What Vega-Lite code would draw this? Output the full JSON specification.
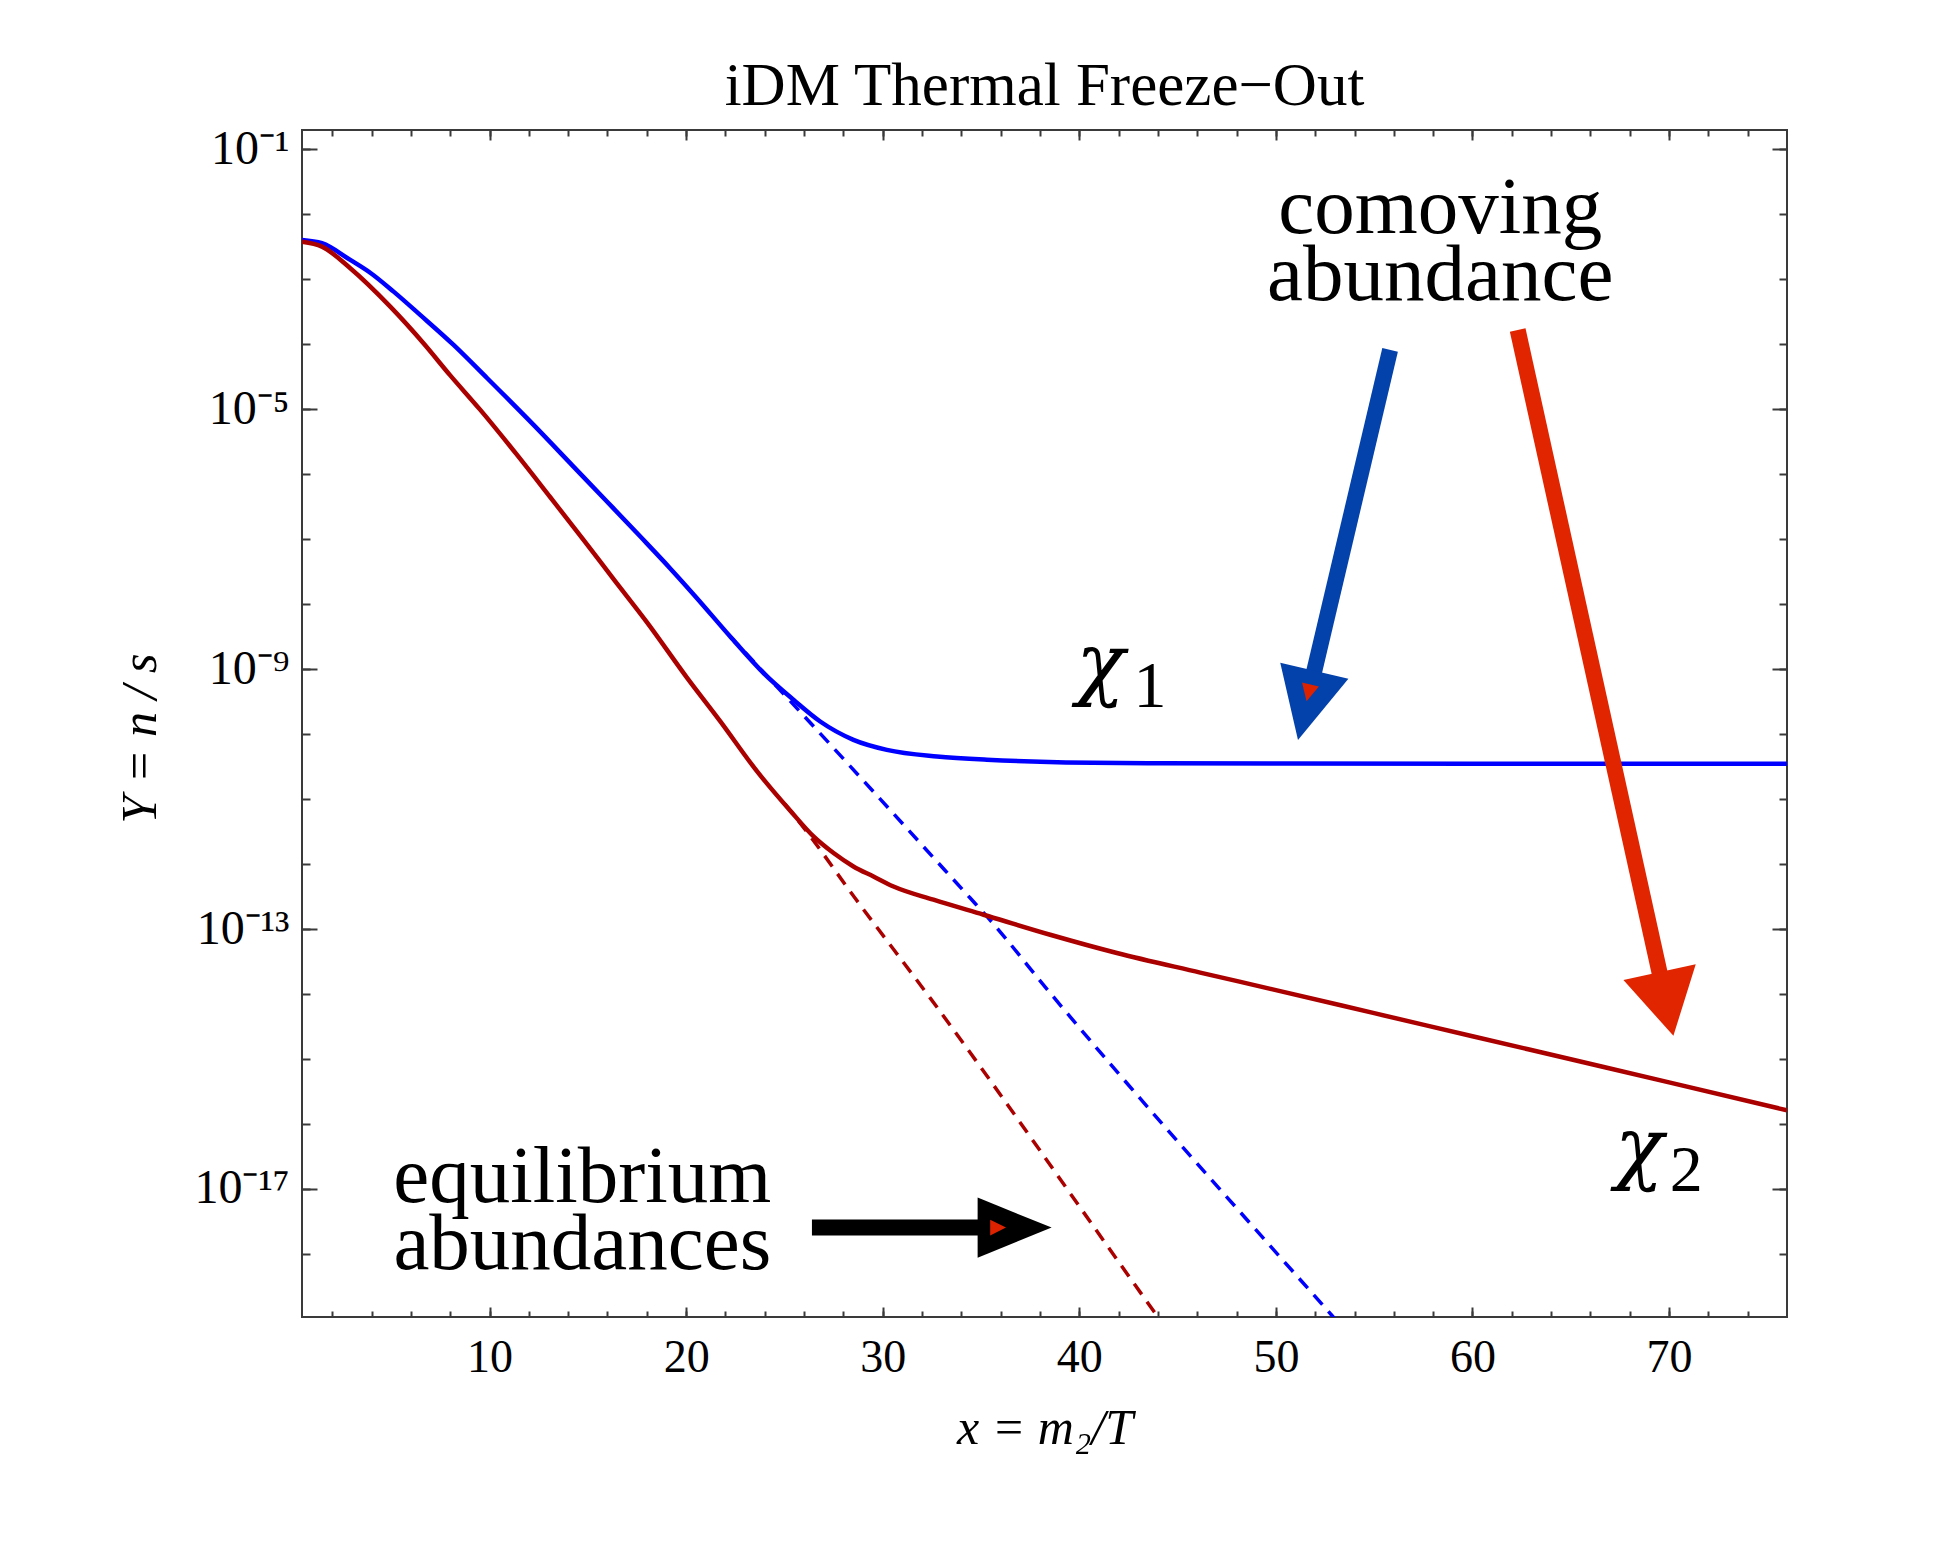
{
  "$schema": "https://vega.github.io/schema/vega-lite/v6.json",
  "width": 1485,
  "height": 1187,
  "autosize": {"type": "none"},
  "padding": {"left": 302, "top": 130, "right": 164, "bottom": 245},
  "background": "white",
  "title": {"text": "iDM Thermal Freeze−Out", "font": "Liberation Serif", "fontSize": 61, "fontWeight": "normal", "color": "black", "anchor": "middle", "baseline": "alphabetic", "offset": -41, "frame": "group"},
  "config": {
    "view": {"stroke": "#3a3a3a", "strokeWidth": 2},
    "axis": {"domain": false, "grid": false, "tickColor": "#3a3a3a", "tickWidth": 2, "labelFont": "Liberation Serif", "labelFontSize": 46, "labelColor": "black", "titleFont": "Liberation Serif", "titleFontSize": 50, "titleFontWeight": "normal", "titleFontStyle": "italic", "titleColor": "black", "labelOverlap": false, "labelFlush": false}
  },
  "datasets": {
    "abundance": [
      {"series": "chi1", "x": 0.46, "Y": 4.027e-3},
      {"series": "chi1", "x": 1.475, "Y": 3.581e-3},
      {"series": "chi1", "x": 2.915, "Y": 1.982e-3},
      {"series": "chi1", "x": 3.93, "Y": 1.259e-3},
      {"series": "chi1", "x": 5.12, "Y": 6.442e-4},
      {"series": "chi1", "x": 6.47, "Y": 2.825e-4},
      {"series": "chi1", "x": 8.17, "Y": 9.75e-5},
      {"series": "chi1", "x": 9.87, "Y": 3.02e-5},
      {"series": "chi1", "x": 12.24, "Y": 5.728e-6},
      {"series": "chi1", "x": 14.27, "Y": 1.309e-6},
      {"series": "chi1", "x": 15.97, "Y": 3.8e-7},
      {"series": "chi1", "x": 17.67, "Y": 1.096e-7},
      {"series": "chi1", "x": 19.19, "Y": 3.548e-8},
      {"series": "chi1", "x": 20.55, "Y": 1.236e-8},
      {"series": "chi1", "x": 22.24, "Y": 3.177e-9},
      {"series": "chi1", "x": 23.94, "Y": 8.67e-10},
      {"series": "chi1", "x": 25.46, "Y": 3.373e-10},
      {"series": "chi1", "x": 26.82, "Y": 1.563e-10},
      {"series": "chi1", "x": 28.51, "Y": 8.166e-11},
      {"series": "chi1", "x": 30.21, "Y": 5.728e-11},
      {"series": "chi1", "x": 32.76, "Y": 4.519e-11},
      {"series": "chi1", "x": 35.3, "Y": 4.027e-11},
      {"series": "chi1", "x": 42.08, "Y": 3.581e-11},
      {"series": "chi1", "x": 50, "Y": 3.532e-11},
      {"series": "chi1", "x": 60, "Y": 3.508e-11},
      {"series": "chi1", "x": 76, "Y": 3.491e-11},
      {"series": "chi2", "x": 0.46, "Y": 3.784e-3},
      {"series": "chi2", "x": 1.475, "Y": 3.177e-3},
      {"series": "chi2", "x": 2.915, "Y": 1.476e-3},
      {"series": "chi2", "x": 4.95, "Y": 3.784e-4},
      {"series": "chi2", "x": 6.64, "Y": 1.035e-4},
      {"series": "chi2", "x": 8.0, "Y": 3.311e-5},
      {"series": "chi2", "x": 9.53, "Y": 9.75e-6},
      {"series": "chi2", "x": 11.39, "Y": 1.995e-6},
      {"series": "chi2", "x": 13.09, "Y": 4.416e-7},
      {"series": "chi2", "x": 14.78, "Y": 9.75e-8},
      {"series": "chi2", "x": 16.31, "Y": 2.427e-8},
      {"series": "chi2", "x": 18.01, "Y": 5.248e-9},
      {"series": "chi2", "x": 20.04, "Y": 7.413e-10},
      {"series": "chi2", "x": 21.73, "Y": 1.585e-10},
      {"series": "chi2", "x": 23.6, "Y": 2.692e-11},
      {"series": "chi2", "x": 25.3, "Y": 6.607e-12},
      {"series": "chi2", "x": 26.48, "Y": 2.661e-12},
      {"series": "chi2", "x": 27.5, "Y": 1.476e-12},
      {"series": "chi2", "x": 28.51, "Y": 9.183e-13},
      {"series": "chi2", "x": 29.53, "Y": 6.442e-13},
      {"series": "chi2", "x": 30.55, "Y": 4.519e-13},
      {"series": "chi2", "x": 32.58, "Y": 2.825e-13},
      {"series": "chi2", "x": 35.13, "Y": 1.66e-13},
      {"series": "chi2", "x": 38.52, "Y": 8.166e-14},
      {"series": "chi2", "x": 41.91, "Y": 4.276e-14},
      {"series": "chi2", "x": 46.15, "Y": 2.138e-14},
      {"series": "chi2", "x": 50, "Y": 1.148e-14},
      {"series": "chi2", "x": 55, "Y": 5.07e-15},
      {"series": "chi2", "x": 60, "Y": 2.239e-15},
      {"series": "chi2", "x": 65, "Y": 9.886e-16},
      {"series": "chi2", "x": 70, "Y": 4.365e-16},
      {"series": "chi2", "x": 76, "Y": 1.622e-16}
    ],
    "equilibrium": [
      {"series": "eq1", "x": 22.24, "Y": 3.177e-9},
      {"series": "eq1", "x": 24.45, "Y": 6.095e-10},
      {"series": "eq1", "x": 34.45, "Y": 2.999e-13},
      {"series": "eq1", "x": 35.3, "Y": 1.563e-13},
      {"series": "eq1", "x": 38.52, "Y": 1.035e-14},
      {"series": "eq1", "x": 52.83, "Y": 1.148e-19},
      {"series": "eq1", "x": 54.0, "Y": 4.571e-20},
      {"series": "eq2", "x": 25.0, "Y": 8.511e-12},
      {"series": "eq2", "x": 25.8, "Y": 4.276e-12},
      {"series": "eq2", "x": 28.59, "Y": 2.999e-13},
      {"series": "eq2", "x": 32.41, "Y": 8.71e-15},
      {"series": "eq2", "x": 43.97, "Y": 1.104e-19},
      {"series": "eq2", "x": 45.0, "Y": 4.074e-20}
    ],
    "arrows": [
      {"arrow": "blue", "x": 55.81, "Y": 8.17e-5, "x2": 51.54, "Y2": 2.77e-10},
      {"arrow": "red", "x": 62.3, "Y": 1.66e-4, "x2": 69.87, "Y2": 7.02e-15},
      {"arrow": "black", "x": 26.4, "Y": 2.54e-18, "x2": 36.71, "Y2": 2.54e-18}
    ],
    "heads": [
      {"arrow": "blue", "x": 51.54, "Y": 2.77e-10},
      {"arrow": "red", "x": 69.87, "Y": 7.02e-15},
      {"arrow": "black", "x": 36.71, "Y": 2.54e-18}
    ],
    "inner": [
      {"arrow": "blue", "x": 51.66, "Y": 4.31e-10},
      {"arrow": "black", "x": 35.87, "Y": 2.54e-18}
    ],
    "words": [
      {"text": "comoving", "x": 58.36, "Y": 5.21e-3},
      {"text": "abundance", "x": 58.36, "Y": 4.82e-4},
      {"text": "equilibrium", "x": 14.72, "Y": 6.38e-18},
      {"text": "abundances", "x": 14.72, "Y": 5.94e-19}
    ],
    "digits": [
      {"text": "1", "x": 43.6, "Y": 2.63e-10},
      {"text": "2", "x": 70.87, "Y": 9.42e-18}
    ],
    "chis": [
      {"text": "χ", "x": 41.08, "Y": 4.81e-10},
      {"text": "χ", "x": 68.48, "Y": 1.69e-17}
    ]
  },
  "layer": [
    {
      "data": {"name": "equilibrium"},
      "mark": {"type": "line", "strokeDash": [13, 9], "strokeWidth": 3.5, "clip": true, "interpolate": "monotone"},
      "encoding": {
        "x": {"field": "x", "type": "quantitative", "scale": {"domain": [0.46, 76], "nice": false, "zero": false},
              "axis": {"orient": "bottom", "values": [2,4,6,8,10,12,14,16,18,20,22,24,26,28,30,32,34,36,38,40,42,44,46,48,50,52,54,56,58,60,62,64,66,68,70,72,74], "tickSize": -6, "labels": false, "title": null}},
        "y": {"field": "Y", "type": "quantitative", "scale": {"type": "log", "domain": [1.07e-19, 0.198], "nice": false},
              "axis": {"orient": "left", "values": [0.1,0.01,0.001,1e-4,1e-5,1e-6,1e-7,1e-8,1e-9,1e-10,1e-11,1e-12,1e-13,1e-14,1e-15,1e-16,1e-17,1e-18], "tickSize": -8, "labels": false, "title": null}},
        "color": {"field": "series", "type": "nominal", "scale": {"domain": ["eq1", "eq2"], "range": ["#0000ff", "#aa0000"]}, "legend": null}
      }
    },
    {
      "data": {"name": "abundance"},
      "mark": {"type": "line", "strokeWidth": 4.5, "clip": true, "interpolate": "monotone"},
      "encoding": {
        "x": {"field": "x", "type": "quantitative", "scale": {"domain": [0.46, 76], "nice": false, "zero": false},
              "axis": {"orient": "bottom", "values": [10,20,30,40,50,60,70], "tickSize": -10, "labelPadding": 64, "labelBaseline": "alphabetic", "labelAlign": "center", "title": "x = m₂/T", "titleBaseline": "alphabetic", "titleY": 126}},
        "y": {"field": "Y", "type": "quantitative", "scale": {"type": "log", "domain": [1.07e-19, 0.198], "nice": false},
              "axis": {"orient": "left", "values": [0.1, 1e-5, 1e-9, 1e-13, 1e-17], "tickSize": -15, "labelPadding": 28, "labelBaseline": "middle", "labelAlign": "right", "labelFontSize": 48,
                       "labelExpr": "datum.value > 0.01 ? '10⁻¹' : datum.value > 1e-6 ? '10⁻⁵' : datum.value > 1e-10 ? '10⁻⁹' : datum.value > 1e-14 ? '10⁻¹³' : '10⁻¹⁷'",
                       "title": "Y = n / s", "titleAngle": -90, "titleX": -147, "titleY": 608, "titleBaseline": "alphabetic", "titleAlign": "center"}},
        "color": {"field": "series", "type": "nominal", "scale": {"domain": ["chi1", "chi2"], "range": ["#0000ff", "#aa0000"]}, "legend": null}
      }
    },
    {
      "data": {"name": "arrows"},
      "mark": {"type": "rule", "strokeWidth": 16, "strokeCap": "butt"},
      "encoding": {
        "x": {"field": "x", "type": "quantitative", "scale": {"domain": [0.46, 76], "nice": false, "zero": false},
              "axis": {"orient": "top", "values": [10,20,30,40,50,60,70], "tickSize": -10, "labels": false, "title": null}},
        "y": {"field": "Y", "type": "quantitative", "scale": {"type": "log", "domain": [1.07e-19, 0.198], "nice": false},
              "axis": {"orient": "right", "values": [0.1, 1e-5, 1e-9, 1e-13, 1e-17], "tickSize": -15, "labels": false, "title": null}},
        "x2": {"field": "x2"},
        "y2": {"field": "Y2"},
        "color": {"field": "arrow", "type": "nominal", "scale": {"domain": ["blue", "red", "black"], "range": ["#0341ab", "#e02500", "#000000"]}, "legend": null}
      }
    },
    {
      "data": {"name": "heads"},
      "transform": [{"filter": "datum.arrow == 'blue'"}],
      "mark": {"type": "point", "filled": true, "opacity": 1, "color": "#0341ab", "shape": "M0,-1L0.986,1L-0.986,1Z", "size": 5041, "angle": 193.3},
      "encoding": {
        "x": {"field": "x", "type": "quantitative", "scale": {"domain": [0.46, 76], "nice": false, "zero": false},
              "axis": {"orient": "top", "values": [2,4,6,8,10,12,14,16,18,20,22,24,26,28,30,32,34,36,38,40,42,44,46,48,50,52,54,56,58,60,62,64,66,68,70,72,74], "tickSize": -6, "labels": false, "title": null}},
        "y": {"field": "Y", "type": "quantitative", "scale": {"type": "log", "domain": [1.07e-19, 0.198], "nice": false},
              "axis": {"orient": "right", "values": [0.1,0.01,0.001,1e-4,1e-5,1e-6,1e-7,1e-8,1e-9,1e-10,1e-11,1e-12,1e-13,1e-14,1e-15,1e-16,1e-17,1e-18], "tickSize": -8, "labels": false, "title": null}}
      }
    },
    {
      "data": {"name": "heads"},
      "transform": [{"filter": "datum.arrow == 'red'"}],
      "mark": {"type": "point", "filled": true, "opacity": 1, "color": "#e02500", "shape": "M0,-1L1.138,1L-1.138,1Z", "size": 4225, "angle": 167.7},
      "encoding": {
        "x": {"field": "x", "type": "quantitative", "scale": {"domain": [0.46, 76], "nice": false, "zero": false}, "axis": null},
        "y": {"field": "Y", "type": "quantitative", "scale": {"type": "log", "domain": [1.07e-19, 0.198], "nice": false}, "axis": null}
      }
    },
    {
      "data": {"name": "heads"},
      "transform": [{"filter": "datum.arrow == 'black'"}],
      "mark": {"type": "point", "filled": true, "opacity": 1, "color": "#000000", "shape": "M0,-1L0.811,1L-0.811,1Z", "size": 5476, "angle": 90},
      "encoding": {
        "x": {"field": "x", "type": "quantitative", "scale": {"domain": [0.46, 76], "nice": false, "zero": false}, "axis": null},
        "y": {"field": "Y", "type": "quantitative", "scale": {"type": "log", "domain": [1.07e-19, 0.198], "nice": false}, "axis": null}
      }
    },
    {
      "data": {"name": "inner"},
      "transform": [{"filter": "datum.arrow == 'blue'"}],
      "mark": {"type": "point", "filled": true, "opacity": 1, "color": "#dd2200", "shape": "M0,-1L1,1L-1,1Z", "size": 300, "angle": 193},
      "encoding": {
        "x": {"field": "x", "type": "quantitative", "scale": {"domain": [0.46, 76], "nice": false, "zero": false}, "axis": null},
        "y": {"field": "Y", "type": "quantitative", "scale": {"type": "log", "domain": [1.07e-19, 0.198], "nice": false}, "axis": null}
      }
    },
    {
      "data": {"name": "inner"},
      "transform": [{"filter": "datum.arrow == 'black'"}],
      "mark": {"type": "point", "filled": true, "opacity": 1, "color": "#dd2200", "shape": "M0,-1L1,1L-1,1Z", "size": 250, "angle": 90},
      "encoding": {
        "x": {"field": "x", "type": "quantitative", "scale": {"domain": [0.46, 76], "nice": false, "zero": false}, "axis": null},
        "y": {"field": "Y", "type": "quantitative", "scale": {"type": "log", "domain": [1.07e-19, 0.198], "nice": false}, "axis": null}
      }
    },
    {
      "data": {"name": "words"},
      "mark": {"type": "text", "font": "Liberation Serif", "fontSize": 81, "align": "center", "baseline": "alphabetic", "color": "black"},
      "encoding": {
        "x": {"field": "x", "type": "quantitative", "scale": {"domain": [0.46, 76], "nice": false, "zero": false}, "axis": null},
        "y": {"field": "Y", "type": "quantitative", "scale": {"type": "log", "domain": [1.07e-19, 0.198], "nice": false}, "axis": null},
        "text": {"field": "text"}
      }
    },
    {
      "data": {"name": "digits"},
      "mark": {"type": "text", "font": "Liberation Serif", "fontSize": 66, "align": "center", "baseline": "alphabetic", "color": "black"},
      "encoding": {
        "x": {"field": "x", "type": "quantitative", "scale": {"domain": [0.46, 76], "nice": false, "zero": false}, "axis": null},
        "y": {"field": "Y", "type": "quantitative", "scale": {"type": "log", "domain": [1.07e-19, 0.198], "nice": false}, "axis": null},
        "text": {"field": "text"}
      }
    },
    {
      "data": {"name": "chis"},
      "mark": {"type": "text", "font": "DejaVu Serif", "fontSize": 80, "fontStyle": "italic", "align": "center", "baseline": "alphabetic", "color": "black"},
      "encoding": {
        "x": {"field": "x", "type": "quantitative", "scale": {"domain": [0.46, 76], "nice": false, "zero": false}, "axis": null},
        "y": {"field": "Y", "type": "quantitative", "scale": {"type": "log", "domain": [1.07e-19, 0.198], "nice": false}, "axis": null},
        "text": {"field": "text"}
      }
    }
  ],
  "resolve": {"axis": {"x": "independent", "y": "independent"}, "scale": {"color": "independent"}}
}
